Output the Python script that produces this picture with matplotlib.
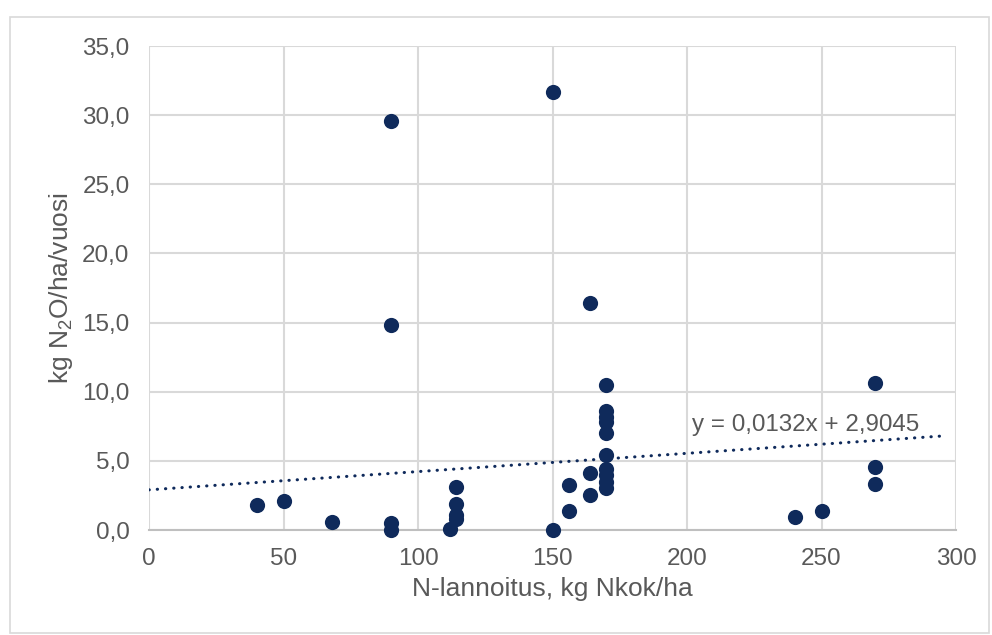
import matplotlib
matplotlib.use("Agg")
import matplotlib.pyplot as plt
from matplotlib.patches import Rectangle
import numpy as np

plt.rcParams['font.family'] = ['Liberation Sans', 'DejaVu Sans']
plt.rcParams['mathtext.default'] = 'regular'

# Data
n_fert = [40, 50, 68, 90, 90, 90, 90,
          112, 114, 114, 114, 114,
          150, 150, 156, 156, 164, 164, 164,
          170, 170, 170, 170, 170, 170, 170, 170, 170, 170,
          240, 250, 270, 270, 270]
n2o = [1.8, 2.1, 0.6, 29.6, 14.8, 0.5, 0.0,
       0.05, 3.1, 1.9, 1.1, 0.8,
       31.7, 0.0, 1.4, 3.25, 16.4, 4.1, 2.55,
       10.45, 8.6, 8.2, 7.8, 7.05, 5.4, 4.4, 4.0, 3.5, 3.05,
       0.95, 1.4, 10.6, 4.55, 3.3]

trend_slope = 0.0132
trend_intercept = 2.9045
trend_x_range = [0, 295]
trend_label = "y = 0,0132x + 2,9045"

x_ticks = [0, 50, 100, 150, 200, 250, 300]
y_ticks = [0, 5, 10, 15, 20, 25, 30, 35]
x_label = "N-lannoitus, kg Nkok/ha"
y_label = "kg N$_2$O/ha/vuosi"

navy = '#0F2A5B'
grey_text = '#595959'
grid_col = '#D9D9D9'

W, H = 992, 635
fig = plt.figure(figsize=(W / 100, H / 100), dpi=100)
ax = fig.add_axes([149 / W, 1 - 530 / H, (956 - 149) / W, (530 - 46) / H])

# outer chart border
fig.patches.append(Rectangle((9.5 / W, 1 - 633 / H), (989 - 9.5) / W, (633 - 16.5) / H,
                             transform=fig.transFigure, fill=False,
                             edgecolor='#D9D9D9', linewidth=1.2))

ax.set_xlim(0, 300)
ax.set_ylim(0, 35)
ax.set_xticks(x_ticks)
ax.set_yticks(y_ticks)
ax.set_xticklabels([str(v) for v in x_ticks])
ax.set_yticklabels([f"{v:.1f}".replace('.', ',') for v in y_ticks])
ax.grid(True, color=grid_col, linewidth=1.5)
ax.set_axisbelow(True)
for s in ['left', 'right', 'top']:
    ax.spines[s].set_visible(False)
ax.spines['bottom'].set_color('#BFBFBF')
ax.spines['bottom'].set_linewidth(1.5)
ax.tick_params(length=0, labelsize=17.5, colors=grey_text)
ax.tick_params(axis='y', pad=14)
ax.tick_params(axis='x', pad=13)

ax.scatter(n_fert, n2o, s=120, color=navy, zorder=3, linewidths=0, clip_on=False)

tx = np.array(trend_x_range, dtype=float)
ax.plot(tx, trend_slope * tx + trend_intercept, color=navy, linewidth=2.2,
        linestyle=(0, (0.1, 2.6)), dash_capstyle='round', zorder=2)
ax.text(202, 7.6, trend_label, fontsize=17.4, color=grey_text, ha='left', va='center')

ax.set_xlabel(x_label, fontsize=19, color=grey_text, labelpad=5)
ax.set_ylabel(y_label, fontsize=19, color=grey_text, labelpad=5)

fig.savefig("out.png", dpi=100)
